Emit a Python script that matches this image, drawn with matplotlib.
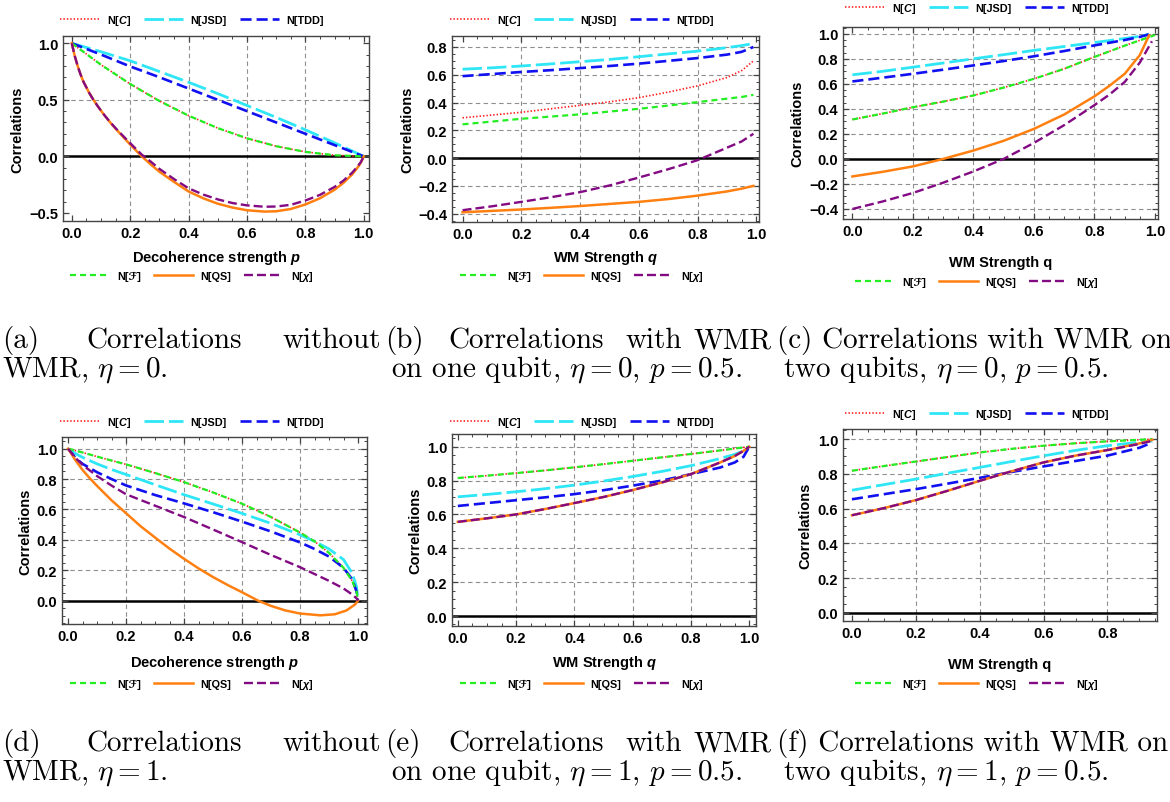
import matplotlib
matplotlib.use('Agg')
import matplotlib.pyplot as plt
from matplotlib.lines import Line2D
from matplotlib.ticker import FixedLocator, MultipleLocator
from matplotlib.font_manager import FontProperties

plt.rcParams['font.family'] = ['Liberation Sans', 'DejaVu Sans']
plt.rcParams['font.weight'] = 'bold'
plt.rcParams['mathtext.fontset'] = 'custom'
plt.rcParams['mathtext.it'] = 'Liberation Sans:italic:bold'
plt.rcParams['mathtext.rm'] = 'Liberation Sans:bold'
plt.rcParams['mathtext.bf'] = 'Liberation Sans:bold'

# ---------------- data ----------------
# (a) without WMR, eta = 0
a_p = [0, 0.1, 0.2, 0.3, 0.4, 0.5, 0.6, 0.7, 0.8, 0.9, 1.0]
a_C = [1.0, 0.81, 0.64, 0.49, 0.36, 0.25, 0.16, 0.09, 0.04, 0.01, 0.0]
a_F = [1.0, 0.81, 0.64, 0.49, 0.36, 0.25, 0.16, 0.09, 0.04, 0.01, 0.0]
a_JSD = [1.0, 0.925, 0.845, 0.75, 0.655, 0.555, 0.45, 0.345, 0.235, 0.12, 0.0]
a_TDD = [1.0, 0.9, 0.795, 0.7, 0.6, 0.5, 0.4, 0.3, 0.2, 0.1, 0.0]
a_p2 = [0, 0.01, 0.02, 0.03, 0.04, 0.05, 0.06, 0.073, 0.09, 0.11, 0.13, 0.15, 0.175, 0.2,
        0.24, 0.27, 0.3, 0.35, 0.4, 0.45, 0.5, 0.55, 0.6, 0.66, 0.7, 0.75, 0.8, 0.85,
        0.9, 0.93, 0.96, 0.98, 0.99, 1.0]
a_QS = [1.0, 0.89, 0.80, 0.725, 0.66, 0.61, 0.56, 0.505, 0.44, 0.37, 0.305, 0.245, 0.175, 0.105,
        0.0, -0.07, -0.135, -0.225, -0.31, -0.37, -0.418, -0.452, -0.476, -0.488, -0.485, -0.465,
        -0.425, -0.37, -0.295, -0.235, -0.16, -0.095, -0.055, 0.0]
a_X = [1.0, 0.89, 0.80, 0.725, 0.66, 0.61, 0.56, 0.505, 0.44, 0.37, 0.307, 0.25, 0.183, 0.117,
       0.015, -0.045, -0.11, -0.2, -0.282, -0.337, -0.38, -0.412, -0.433, -0.445, -0.443, -0.428,
       -0.39, -0.34, -0.27, -0.215, -0.145, -0.085, -0.05, 0.0]

# (b) WMR on one qubit, eta = 0, p = 0.5
b_q = [0, 0.1, 0.2, 0.3, 0.4, 0.5, 0.6, 0.7, 0.8, 0.9, 0.95, 0.99]
b_C = [0.29, 0.31, 0.33, 0.355, 0.38, 0.405, 0.435, 0.475, 0.52, 0.58, 0.63, 0.70]
b_JSD = [0.64, 0.65, 0.663, 0.678, 0.694, 0.71, 0.73, 0.75, 0.77, 0.795, 0.81, 0.825]
b_TDD = [0.59, 0.605, 0.62, 0.633, 0.648, 0.663, 0.68, 0.7, 0.72, 0.745, 0.765, 0.80]
b_F = [0.243, 0.263, 0.283, 0.299, 0.315, 0.335, 0.355, 0.378, 0.403, 0.428, 0.44, 0.455]
b_QS = [-0.39, -0.38, -0.37, -0.358, -0.345, -0.33, -0.315, -0.295, -0.27, -0.24, -0.22, -0.2]
b_X = [-0.375, -0.347, -0.315, -0.282, -0.245, -0.197, -0.14, -0.08, -0.015, 0.075, 0.12, 0.175]

# (c) WMR on two qubits, eta = 0, p = 0.5
c_q = [0, 0.1, 0.2, 0.3, 0.4, 0.5, 0.6, 0.7, 0.8, 0.9, 0.95, 0.98]
c_JSD = [0.672, 0.70, 0.733, 0.766, 0.8, 0.833, 0.867, 0.898, 0.93, 0.962, 0.98, 0.995]
c_TDD = [0.619, 0.649, 0.68, 0.713, 0.747, 0.782, 0.82, 0.862, 0.907, 0.95, 0.975, 0.995]
c_q2 = [0, 0.1, 0.2, 0.3, 0.4, 0.5, 0.6, 0.7, 0.8, 0.9, 1.0]
c_C = [0.315, 0.362, 0.413, 0.458, 0.507, 0.57, 0.64, 0.72, 0.815, 0.905, 0.99]
c_F = [0.315, 0.362, 0.413, 0.458, 0.507, 0.57, 0.64, 0.72, 0.815, 0.905, 0.99]
c_q3 = [0, 0.1, 0.2, 0.3, 0.4, 0.5, 0.6, 0.7, 0.8, 0.85, 0.9, 0.95, 0.98]
c_QS = [-0.14, -0.103, -0.06, 0.0, 0.067, 0.145, 0.24, 0.355, 0.5, 0.585, 0.68, 0.83, 0.985]
c_q4 = [0, 0.1, 0.2, 0.3, 0.4, 0.5, 0.6, 0.7, 0.8, 0.85, 0.9, 0.95, 0.99]
c_X = [-0.4, -0.34, -0.272, -0.19, -0.1, 0.0, 0.128, 0.27, 0.43, 0.515, 0.615, 0.77, 0.94]

# (d) without WMR, eta = 1
d_p = [0, 0.025, 0.05, 0.1, 0.15, 0.2, 0.3, 0.4, 0.5, 0.6, 0.7, 0.8, 0.85, 0.9, 0.95, 0.98, 0.995, 1.0]
d_C = [1.0, 0.988, 0.975, 0.948, 0.922, 0.897, 0.84, 0.78, 0.712, 0.638, 0.55, 0.448, 0.39, 0.314,
       0.216, 0.13, 0.06, 0.0]
d_F = [1.0, 0.988, 0.975, 0.948, 0.922, 0.897, 0.84, 0.78, 0.712, 0.638, 0.55, 0.448, 0.39, 0.314,
       0.216, 0.13, 0.06, 0.0]
d_JSD = [1.0, 0.968, 0.943, 0.9, 0.863, 0.83, 0.763, 0.697, 0.636, 0.574, 0.508, 0.433, 0.39, 0.34,
         0.27, 0.18, 0.09, 0.0]
d_TDD = [1.0, 0.94, 0.9, 0.845, 0.8, 0.758, 0.695, 0.64, 0.582, 0.52, 0.455, 0.383, 0.34, 0.29,
         0.216, 0.14, 0.06, 0.0]
d_X = [1.0, 0.94, 0.893, 0.82, 0.757, 0.70, 0.625, 0.55, 0.468, 0.385, 0.30, 0.22, 0.175, 0.13,
       0.08, 0.04, 0.015, 0.0]
d_p2 = [0, 0.025, 0.05, 0.075, 0.1, 0.15, 0.2, 0.25, 0.3, 0.35, 0.4, 0.45, 0.5, 0.55, 0.6, 0.655,
        0.7, 0.75, 0.8, 0.87, 0.92, 0.96, 0.99, 1.0]
d_QS = [1.0, 0.925, 0.86, 0.805, 0.755, 0.66, 0.575, 0.49, 0.415, 0.342, 0.275, 0.212, 0.155, 0.103,
        0.055, 0.0, -0.035, -0.065, -0.085, -0.097, -0.09, -0.065, -0.025, 0.0]

# (e) WMR on one qubit, eta = 1, p = 0.5
e_q = [0, 0.1, 0.2, 0.3, 0.4, 0.5, 0.6, 0.7, 0.8, 0.9, 0.95, 0.98, 1.0]
e_C = [0.815, 0.829, 0.844, 0.86, 0.878, 0.897, 0.917, 0.937, 0.957, 0.978, 0.989, 0.996, 1.0]
e_F = [0.815, 0.829, 0.844, 0.86, 0.878, 0.897, 0.917, 0.937, 0.957, 0.978, 0.989, 0.996, 1.0]
e_JSD = [0.704, 0.718, 0.734, 0.752, 0.773, 0.797, 0.824, 0.854, 0.888, 0.93, 0.955, 0.975, 1.0]
e_TDD = [0.65, 0.667, 0.684, 0.701, 0.72, 0.743, 0.77, 0.8, 0.838, 0.877, 0.907, 0.94, 1.0]
e_QS = [0.556, 0.577, 0.6, 0.632, 0.667, 0.703, 0.744, 0.789, 0.838, 0.907, 0.945, 0.975, 1.0]
e_X = [0.556, 0.577, 0.6, 0.632, 0.667, 0.703, 0.744, 0.789, 0.838, 0.907, 0.945, 0.975, 1.0]

# (f) WMR on two qubits, eta = 1, p = 0.5
f_q = [0, 0.1, 0.2, 0.3, 0.4, 0.5, 0.6, 0.7, 0.8, 0.9, 0.94]
f_C = [0.818, 0.845, 0.871, 0.897, 0.923, 0.944, 0.962, 0.976, 0.987, 0.996, 1.0]
f_F = [0.818, 0.845, 0.871, 0.897, 0.923, 0.944, 0.962, 0.976, 0.987, 0.996, 1.0]
f_JSD = [0.706, 0.738, 0.77, 0.804, 0.837, 0.871, 0.904, 0.935, 0.962, 0.982, 0.99]
f_TDD = [0.654, 0.683, 0.712, 0.744, 0.777, 0.811, 0.843, 0.874, 0.905, 0.95, 0.98]
f_QS = [0.562, 0.603, 0.649, 0.703, 0.76, 0.815, 0.866, 0.905, 0.937, 0.975, 0.996]
f_X = [0.562, 0.603, 0.649, 0.703, 0.76, 0.815, 0.866, 0.905, 0.937, 0.972, 0.99]

labels_top = ['N[$C$]', 'N[JSD]', 'N[TDD]']
labels_bot = ['N[ℱ]', 'N[QS]', 'N[$\\chi$]']

captions = [
    ['(a)', 'Correlations', 'without', 'WMR, $\\eta = 0$.'],
    ['(b)', 'Correlations', 'with', 'WMR', 'on one qubit, $\\eta = 0$, $p = 0.5$.'],
    ['(c) Correlations with WMR on', 'two qubits, $\\eta = 0$, $p = 0.5$.'],
    ['(d)', 'Correlations', 'without', 'WMR, $\\eta = 1$.'],
    ['(e)', 'Correlations', 'with', 'WMR', 'on one qubit, $\\eta = 1$, $p = 0.5$.'],
    ['(f) Correlations with WMR on', 'two qubits, $\\eta = 1$, $p = 0.5$.'],
]

# ---------------- styles ----------------
sty = {
    'C': dict(color='#FF1A1A', lw=1.2, dashes=(0.85, 1.2)),
    'JSD': dict(color='#2EE6F6', lw=2.0, dashes=(7.0, 1.8)),
    'TDD': dict(color='#1010F0', lw=1.9, dashes=(4.2, 1.9)),
    'F': dict(color='#22EE22', lw=1.6, dashes=(2.7, 1.8)),
    'QS': dict(color='#FF8010', lw=1.8),
    'X': dict(color='#820A82', lw=1.7, dashes=(3.8, 1.7)),
}

W, H = 1170, 803
fig = plt.figure(figsize=(W / 100, H / 100), dpi=100)


def box(l, r, t, b):
    return [l / W, 1 - b / H, (r - l) / W, (b - t) / H]


def panel(frame, xlim, ylim, ymaj, ymin_step, ygrid, series, xlabel, xlab_y, ylab_x,
          leg_x, leg_top, leg_bot, xmaj=(0, 0.2, 0.4, 0.6, 0.8, 1.0)):
    l, r, t, b = frame
    ax = fig.add_axes(box(l, r, t, b))
    for gx in [0.2, 0.4, 0.6, 0.8]:
        ax.axvline(gx, color='#8f8f8f', lw=0.8, dashes=(4, 3), zorder=1)
    for gy in ygrid:
        ax.axhline(gy, color='#8f8f8f', lw=0.8, dashes=(4, 3), zorder=1)
    ax.axhline(0, color='black', lw=1.8, zorder=1.5)
    for x, y, key in series:
        ax.plot(x, y, zorder=2, **sty[key])
    ax.set_xlim(*xlim)
    ax.set_ylim(*ylim)
    ax.xaxis.set_major_locator(FixedLocator(list(xmaj)))
    ax.xaxis.set_minor_locator(MultipleLocator(0.05))
    ax.yaxis.set_major_locator(FixedLocator(ymaj))
    ax.yaxis.set_minor_locator(MultipleLocator(ymin_step))
    ax.tick_params(which='both', direction='in', top=True, right=True, color='#444444')
    ax.tick_params(which='major', length=4, width=0.9, labelsize=10.5, pad=3.5)
    ax.tick_params(which='minor', length=2.3, width=0.7)
    for s in ax.spines.values():
        s.set_color('#444444')
        s.set_linewidth(1.0)
    ax.set_xlabel(xlabel, fontsize=10.5, fontweight='bold')
    ax.set_ylabel('Correlations', fontsize=10.5, fontweight='bold')
    ax.xaxis.set_label_coords(0.5, (b - xlab_y) / (b - t))
    ax.xaxis.label.set_va('center')
    ax.yaxis.set_label_coords((ylab_x - l) / (r - l), 0.5)
    ax.yaxis.label.set_va('center')

    prop = FontProperties(family=['Liberation Sans', 'DejaVu Sans'], weight='bold', size=7.8)
    for keys, labs, ly in [(['C', 'JSD', 'TDD'], labels_top, leg_top),
                           (['F', 'QS', 'X'], labels_bot, leg_bot)]:
        hs = [Line2D([], [], **sty[k]) for k in keys]
        fig.legend(hs, labs, loc='center', bbox_to_anchor=(leg_x / W, 1 - ly / H), ncol=3,
                   frameon=False, prop=prop, handlelength=3.6, handletextpad=0.7,
                   columnspacing=1.2, borderpad=0, borderaxespad=0)
    return ax


lab_p = 'Decoherence strength $p$'
lab_q = 'WM Strength $q$'
lab_q2 = 'WM Strength q'

panel((63, 369, 37, 222), (-0.03, 1.018), (-0.571, 1.064), [-0.5, 0, 0.5, 1.0], 0.1, [0.5],
      [(a_p, a_C, 'C'), (a_p, a_JSD, 'JSD'), (a_p, a_TDD, 'TDD'), (a_p, a_F, 'F'),
       (a_p2, a_QS, 'QS'), (a_p2, a_X, 'X')],
      lab_p, 258, 17, 192, 21, 277)

panel((452, 759, 37, 223), (-0.036, 1.009), (-0.46, 0.879), [-0.4, -0.2, 0, 0.2, 0.4, 0.6, 0.8], 0.05,
      [-0.4, -0.2, 0.2, 0.4, 0.6, 0.8],
      [(b_q, b_C, 'C'), (b_q, b_JSD, 'JSD'), (b_q, b_TDD, 'TDD'), (b_q, b_F, 'F'),
       (b_q, b_QS, 'QS'), (b_q, b_X, 'X')],
      lab_q, 258, 407, 582, 21, 277)

panel((843, 1158, 28, 220), (-0.031, 1.01), (-0.48, 1.054), [-0.4, -0.2, 0, 0.2, 0.4, 0.6, 0.8, 1.0], 0.05,
      [-0.4, -0.2, 0.2, 0.4, 0.6, 0.8, 1.0],
      [(c_q2, c_C, 'C'), (c_q, c_JSD, 'JSD'), (c_q, c_TDD, 'TDD'), (c_q2, c_F, 'F'),
       (c_q3, c_QS, 'QS'), (c_q4, c_X, 'X')],
      lab_q2, 263, 797, 977, 9, 283)

panel((62, 367, 438, 625), (-0.021, 1.031), (-0.154, 1.077), [0, 0.2, 0.4, 0.6, 0.8, 1.0], 0.05,
      [0.2, 0.4, 0.6, 0.8, 1.0],
      [(d_p, d_C, 'C'), (d_p, d_JSD, 'JSD'), (d_p, d_TDD, 'TDD'), (d_p, d_F, 'F'),
       (d_p2, d_QS, 'QS'), (d_p, d_X, 'X')],
      lab_p, 663, 25, 192, 423, 685)

panel((452, 756, 435, 627), (-0.02, 1.023), (-0.059, 1.075), [0, 0.2, 0.4, 0.6, 0.8, 1.0], 0.05,
      [0.2, 0.4, 0.6, 0.8, 1.0],
      [(e_q, e_C, 'C'), (e_q, e_JSD, 'JSD'), (e_q, e_TDD, 'TDD'), (e_q, e_F, 'F'),
       (e_q, e_QS, 'QS'), (e_q, e_X, 'X')],
      lab_q, 663, 415, 582, 423, 685)

panel((843, 1157, 430, 622), (-0.028, 0.955), (-0.046, 1.058), [0, 0.2, 0.4, 0.6, 0.8, 1.0], 0.05,
      [0.2, 0.4, 0.6, 0.8, 1.0],
      [(f_q, f_C, 'C'), (f_q, f_JSD, 'JSD'), (f_q, f_TDD, 'TDD'), (f_q, f_F, 'F'),
       (f_q, f_QS, 'QS'), (f_q, f_X, 'X')],
      lab_q2, 665, 805, 977, 415, 685, xmaj=(0, 0.2, 0.4, 0.6, 0.8))


# ---------------- captions (LaTeX-like serif) ----------------
def cap(x, y, s, ha='left'):
    fig.text(x / W, 1 - y / H, s, ha=ha, va='center', fontsize=21, family='cmr10',
             fontweight='normal', math_fontfamily='cm')


for row, (y1, y2) in enumerate([(341, 370), (744, 773)]):
    ca, cb, cc = captions[3 * row], captions[3 * row + 1], captions[3 * row + 2]
    cap(2, y1, ca[0])
    cap(86, y1, ca[1])
    cap(381, y1, ca[2], ha='right')
    cap(2, y2, ca[3])
    cap(385, y1, cb[0])
    cap(448, y1, cb[1])
    cap(625, y1, cb[2])
    cap(772, y1, cb[3], ha='right')
    cap(391, y2, cb[4])
    cap(777, y1, cc[0])
    cap(783, y2, cc[1])

fig.savefig('out.png', dpi=100)
